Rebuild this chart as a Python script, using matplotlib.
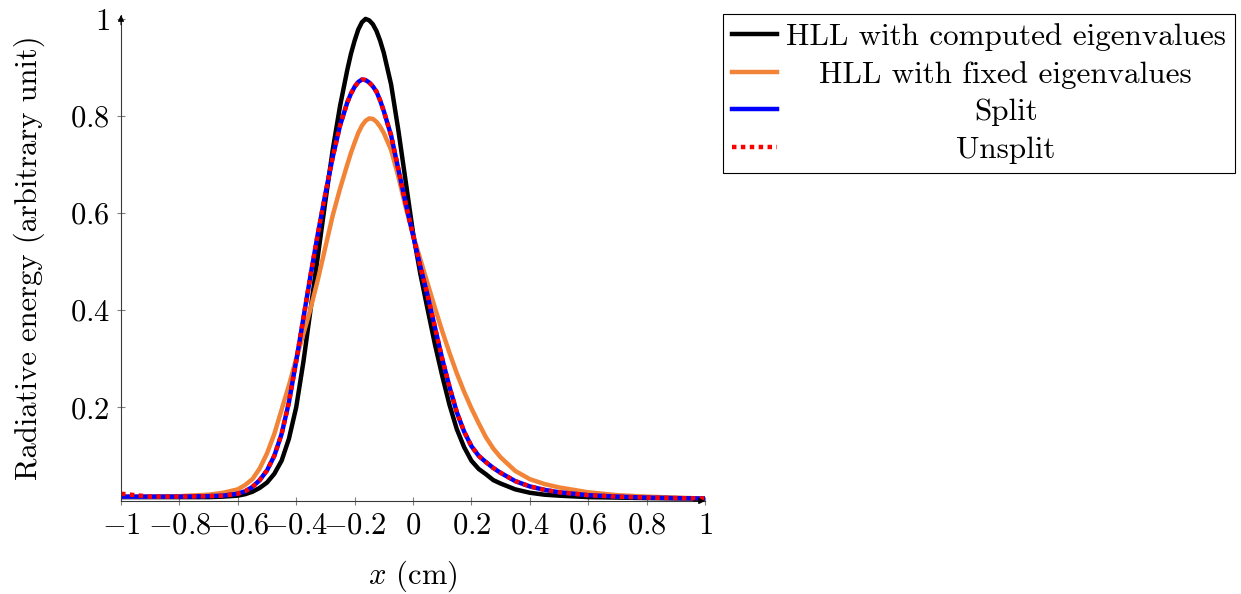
import matplotlib
matplotlib.use('Agg')
import matplotlib.pyplot as plt

plt.rcParams['font.family'] = 'serif'
plt.rcParams['font.serif'] = ['cmr10', 'DejaVu Serif']
plt.rcParams['mathtext.fontset'] = 'cm'
plt.rcParams['axes.formatter.use_mathtext'] = True

# position (cm)
x_cm = [-1.0, -0.9, -0.8, -0.7, -0.65, -0.6,
        -0.575, -0.55, -0.525, -0.5, -0.475, -0.45, -0.425, -0.4, -0.375, -0.35,
        -0.325, -0.3, -0.275, -0.25, -0.225, -0.2125, -0.2, -0.1875, -0.175, -0.1625,
        -0.15, -0.1375, -0.125, -0.1125, -0.1,
        -0.075, -0.05, -0.025, 0.0, 0.025, 0.05, 0.075, 0.1, 0.125, 0.15,
        0.175, 0.2, 0.225, 0.25, 0.275, 0.3,
        0.35, 0.4, 0.45, 0.5, 0.6, 0.7, 0.8, 0.9, 1.0]

hll_computed = [0.015, 0.015, 0.015, 0.015, 0.016, 0.018,
                0.021, 0.026, 0.034, 0.045, 0.063, 0.09, 0.135, 0.2, 0.295, 0.405,
                0.515, 0.625, 0.73, 0.82, 0.895, 0.928, 0.955, 0.978, 0.993, 1.0,
                0.997, 0.989, 0.975, 0.955, 0.93,
                0.865, 0.77, 0.665, 0.56, 0.475, 0.402, 0.33, 0.265, 0.205, 0.155,
                0.118, 0.09, 0.073, 0.062, 0.05, 0.043,
                0.031, 0.024, 0.02, 0.018, 0.015, 0.014, 0.013, 0.0125, 0.012]

hll_fixed = [0.016, 0.016, 0.017, 0.02, 0.024, 0.031,
             0.04, 0.052, 0.074, 0.105, 0.145, 0.195, 0.245, 0.3, 0.352, 0.405,
             0.465, 0.53, 0.595, 0.65, 0.7, 0.724, 0.745, 0.765, 0.78, 0.79,
             0.795, 0.794, 0.788, 0.778, 0.765,
             0.73, 0.675, 0.612, 0.555, 0.505, 0.455, 0.405, 0.357, 0.312, 0.27,
             0.232, 0.198, 0.167, 0.138, 0.115, 0.097,
             0.069, 0.052, 0.042, 0.035, 0.025, 0.019, 0.016, 0.014, 0.012]

split = [0.016, 0.016, 0.016, 0.017, 0.018, 0.022,
         0.027, 0.036, 0.05, 0.07, 0.1, 0.145, 0.21, 0.295, 0.385, 0.475,
         0.56, 0.64, 0.715, 0.78, 0.828, 0.846, 0.86, 0.87, 0.875, 0.874,
         0.869, 0.861, 0.85, 0.832, 0.81,
         0.76, 0.69, 0.62, 0.555, 0.49, 0.43, 0.365, 0.3, 0.242, 0.19,
         0.15, 0.12, 0.1, 0.087, 0.075, 0.065,
         0.048, 0.037, 0.03, 0.025, 0.019, 0.016, 0.014, 0.013, 0.012]

unsplit = [0.022, 0.016, 0.016, 0.017, 0.018, 0.022,
           0.027, 0.036, 0.05, 0.07, 0.1, 0.145, 0.21, 0.295, 0.385, 0.475,
           0.56, 0.64, 0.715, 0.78, 0.828, 0.846, 0.86, 0.87, 0.875, 0.874,
           0.869, 0.861, 0.85, 0.832, 0.81,
           0.76, 0.69, 0.62, 0.555, 0.49, 0.43, 0.365, 0.3, 0.242, 0.19,
           0.15, 0.12, 0.1, 0.087, 0.075, 0.065,
           0.048, 0.037, 0.03, 0.025, 0.019, 0.016, 0.014, 0.013, 0.012]

labels = ['HLL with computed eigenvalues', 'HLL with fixed eigenvalues', 'Split', 'Unsplit']

xticks = [-1, -0.8, -0.6, -0.4, -0.2, 0, 0.2, 0.4, 0.6, 0.8, 1]
xticklabels = ['$-1$', '$-0.8$', '$-0.6$', '$-0.4$', '$-0.2$', '$0$',
               '$0.2$', '$0.4$', '$0.6$', '$0.8$', '$1$']
yticks = [0.2, 0.4, 0.6, 0.8, 1]
yticklabels = ['$0.2$', '$0.4$', '$0.6$', '$0.8$', '$1$']

W, H = 1241, 594
fig = plt.figure(figsize=(W / 100, H / 100), dpi=100)
ax = fig.add_axes([121 / W, 93 / H, 584 / W, 486 / H])

lw = 3.2
ax.plot(x_cm, hll_computed, color='black', lw=lw, label=labels[0])
ax.plot(x_cm, hll_fixed, color='#F28437', lw=lw, label=labels[1])
ax.plot(x_cm, split, color='blue', lw=lw, label=labels[2])
ax.plot(x_cm, unsplit, color='red', lw=lw, linestyle=(0, (1, 1)), label=labels[3])

ax.set_xlim(-1, 1)
ax.set_ylim(0.007, 1.008)

for s in ['top', 'right']:
    ax.spines[s].set_visible(False)
for s in ['left', 'bottom']:
    ax.spines[s].set_color('#3a3a3a')
    ax.spines[s].set_linewidth(0.8)

# axis arrow heads
arrow = dict(arrowstyle='-|>', color='black', lw=0.8, mutation_scale=9, shrinkA=0, shrinkB=0)
ax.annotate('', xy=(1.0, 0), xytext=(0.98, 0), xycoords='axes fraction', arrowprops=arrow)
ax.annotate('', xy=(0, 1.0), xytext=(0, 0.98), xycoords='axes fraction', arrowprops=arrow)

ax.set_xticks(xticks)
ax.set_xticklabels(xticklabels)
ax.set_yticks(yticks)
ax.set_yticklabels(yticklabels)
ax.tick_params(direction='inout', length=6, width=0.8, color='#808080', labelsize=22, pad=5)

ax.set_xlabel('$x$ (cm)', fontsize=22, labelpad=14)
ax.set_ylabel('Radiative energy (arbitrary unit)', fontsize=22, labelpad=18)

leg = ax.legend(loc='upper left', bbox_to_anchor=(723 / W, 1 - 14 / H),
                bbox_transform=fig.transFigure, borderaxespad=0, fontsize=22.4,
                frameon=True, fancybox=False, framealpha=1, edgecolor='black',
                handlelength=1.42, handletextpad=0.3, labelspacing=0.31, borderpad=0.3)
leg.get_frame().set_linewidth(0.8)

# center the legend texts like pgfplots
fig.canvas.draw()
r = fig.canvas.get_renderer()
texts = leg.get_texts()
widths = [t.get_window_extent(r).width for t in texts]
wmax = max(widths)
for t, w in zip(texts, widths):
    t.set_x((wmax - w) / 2)

fig.savefig('out.png', dpi=100)
